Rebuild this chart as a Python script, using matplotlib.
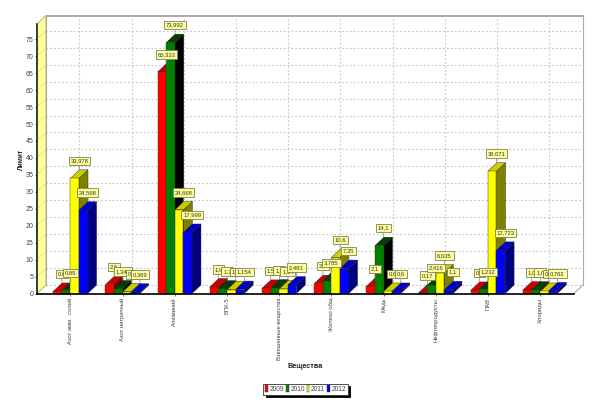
import matplotlib
matplotlib.use('Agg')
import matplotlib.pyplot as plt
from matplotlib.patches import Patch, Polygon

plt.rcParams['font.family'] = ['Liberation Sans', 'DejaVu Sans']

categories = ['Азот амм.  солей', 'Азот нитритный', 'Алюминий', 'БПК-5', 'Взвешенные вещества',
              'Железо общ', 'Медь', 'Нефтепродукты', 'ПАВ', 'Хлориды']
years = ['2009', '2010', '2011', '2012']
v2009 = [0.6, 2.6, 65.333, 1.9, 1.5, 2.9, 2.1, 0.17, 0.9, 1.0]
v2010 = [0.89, 1.343, 73.992, 1.3, 1.6, 3.785, 14.1, 2.416, 1.232, 1.0]
v2011 = [33.978, 0.5, 24.668, 1.1, 1.34, 10.6, 0.6, 6.035, 36.071, 0.6]
v2012 = [24.568, 0.369, 17.999, 1.154, 2.483, 7.35, 0.6, 1.1, 12.723, 0.762]
series = [v2009, v2010, v2011, v2012]
front = ['#ff0000', '#008000', '#ffff00', '#0000ff']
top = ['#cc0000', '#004000', '#cccc00', '#0000cc']
side = ['#800000', '#000000', '#808000', '#000080']

# size of one pixel in data units, depth of the 3d effect
px_x = 1 / 52.2
px_y = 1 / 3.39
dx = 9 * px_x
dy = 8.5 * px_y
w = 8.6 * px_x
xmin, xmax = -0.64, 9.65
ymax = 79.5

fig = plt.figure(figsize=(6, 4.12), dpi=100)
ax = fig.add_axes([37 / 600, (412 - 293.5) / 412, (574 - 37) / 600, 269.5 / 412])
ax.set_xlim(xmin, xmax)
ax.set_ylim(0, ymax)
ax.set_facecolor('none')

# walls
ax.add_patch(Polygon([(xmin, 0), (xmin + dx, dy), (xmin + dx, ymax + dy), (xmin, ymax)],
                     fc='#ffff99', ec='#999966', lw=0.5, clip_on=False, zorder=1))
ax.plot([xmin + dx, xmax + dx], [ymax + dy, ymax + dy], color='#aaaaaa', lw=1.4, clip_on=False, zorder=1)
ax.plot([xmin + dx, xmin + dx], [dy, ymax + dy], color='#aaaaaa', lw=0.8, clip_on=False, zorder=1)
ax.plot([xmax + dx, xmax + dx], [dy, ymax + dy], color='#aaaaaa', lw=0.8, clip_on=False, zorder=1)
ax.plot([xmax, xmax + dx], [0, dy], color='#aaaaaa', lw=0.8, clip_on=False, zorder=1)
for t in range(0, 80, 5):
    ax.plot([xmin + dx, xmax + dx], [t + dy, t + dy], color='#c4c4c4', lw=0.8, ls=(0, (1.5, 2)), clip_on=False, zorder=1)
    ax.plot([xmin, xmin + dx], [t, t + dy], color='#c8c890', lw=0.6, ls=(0, (1.5, 1.5)), clip_on=False, zorder=2)
for i in range(len(categories)):
    ax.plot([i + dx, i + dx], [dy, ymax + dy], color='#c4c4c4', lw=0.8, ls=(0, (1.5, 2)), clip_on=False, zorder=1)

# bars, left to right so the next bar covers the side of the previous one
z = 3
for s, vals in enumerate(series):
    x0 = (s - 2) * w
    for i, v in enumerate(vals):
        l = i + x0
        r = l + w
        ax.add_patch(Polygon([(r, 0), (r + dx, dy), (r + dx, v + dy), (r, v)], fc=side[s], ec='#222222', lw=0.3, clip_on=False, zorder=z))
        ax.add_patch(Polygon([(l, v), (l + dx, v + dy), (r + dx, v + dy), (r, v)], fc=top[s], ec='#222222', lw=0.3, clip_on=False, zorder=z))
        ax.bar(l, v, width=w, align='edge', color=front[s], edgecolor='#333300', linewidth=0.3, clip_on=False, zorder=z + 0.5)
    z += 1

# value labels on top of the bars
for s, vals in enumerate(series):
    x0 = (s - 2) * w
    for i, v in enumerate(vals):
        ax.annotate(str(v).replace('.', ','), xy=(i + x0 + w / 2 + dx / 2, v + dy), xytext=(0, 6.5),
                    textcoords='offset points', ha='center', va='center', fontsize=4.2, color='#333333',
                    bbox=dict(boxstyle='square,pad=0.3', fc='#ffff99', ec='#808060', lw=0.6),
                    arrowprops=dict(arrowstyle='-', color='#808080', lw=0.5, shrinkA=0, shrinkB=0),
                    zorder=20 + s, annotation_clip=False)

for sp in ['top', 'right']:
    ax.spines[sp].set_visible(False)
ax.spines['left'].set_color('#222222')
ax.spines['left'].set_linewidth(1.2)
ax.spines['bottom'].set_color('black')
ax.spines['bottom'].set_linewidth(1.2)
ax.spines['left'].set_zorder(10)
ax.spines['bottom'].set_zorder(10)

ax.set_yticks(range(0, 80, 5))
ax.set_xticks(range(len(categories)))
ax.set_xticklabels(categories, rotation=90, fontsize=4.2, color='#444444', va='top', ha='center')
ax.tick_params(axis='y', labelsize=5, labelcolor='#444444', length=1.5, width=0.4, pad=1)
ax.tick_params(axis='x', length=1.5, width=0.4, pad=1.5)

fig.text(22 / 600, 1 - 160 / 412, 'Лимит', rotation=90, fontsize=4.8, fontweight='bold', ha='center', va='center', color='#222222')
fig.text(305 / 600, 1 - 366 / 412, 'Вещества', fontsize=5.2, fontweight='bold', ha='center', va='center', color='#222222')

handles = [Patch(fc=c, ec='#333333', lw=0.3) for c in front]
leg = fig.legend(handles, years, loc='center', bbox_to_anchor=(305.5 / 600, 1 - 389 / 412), ncol=4, fontsize=4.8,
                 frameon=True, fancybox=False, shadow={'color': 'black', 'alpha': 1, 'ox': 1.5, 'oy': -1.5},
                 edgecolor='#333333', framealpha=1, handlelength=0.4, handleheight=1.2, handletextpad=0.25,
                 columnspacing=0.3, borderpad=0.25, borderaxespad=0, labelcolor='#444444')
leg.get_frame().set_linewidth(0.6)

fig.savefig('out.png', dpi=100)
